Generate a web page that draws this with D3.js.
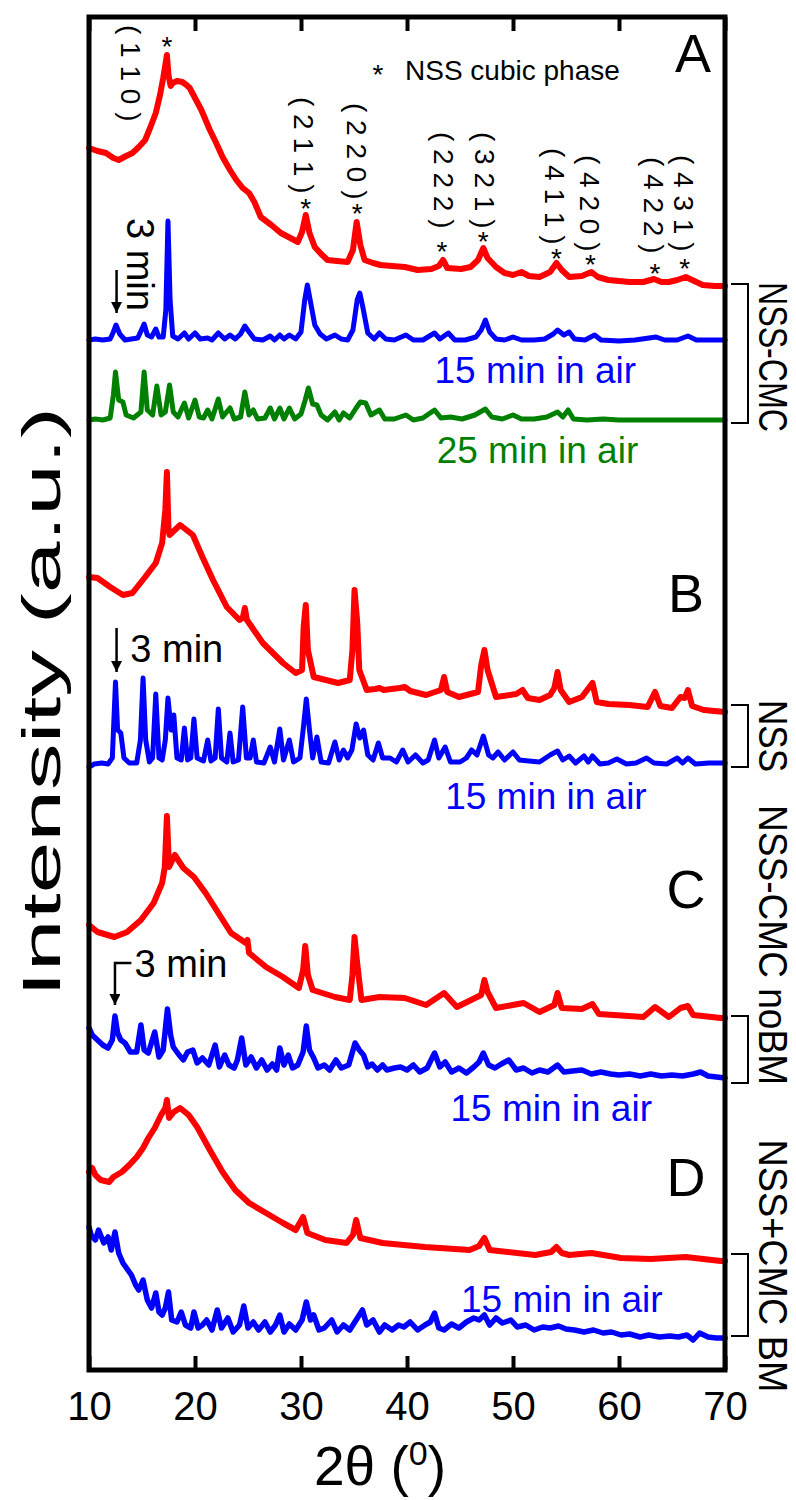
<!DOCTYPE html>
<html>
<head>
<meta charset="utf-8">
<script src="https://cdn.jsdelivr.net/npm/d3@7"></script>
<style>
  body { margin: 0; background: #fff; }
  svg text { font-family: "Liberation Sans", Arial, sans-serif; fill: #000; }
</style>
</head>
<body>
<svg id="chart" width="796" height="1500"></svg>
<script>
// ---- data, [2theta, intensity (a.u., stacked offset included)] ----
const redA = [[10.0,1222],[10.8,1219],[11.6,1217],[12.3,1212],[12.8,1210],[13.5,1214],[14.1,1217],[14.7,1223],[15.3,1230],[15.8,1243],[16.3,1257],[16.7,1275],[17.0,1292],[17.2,1305],[17.35,1315],[17.5,1295],[17.7,1284],[17.9,1287],[18.3,1289],[18.8,1288],[19.2,1285],[19.5,1282],[20.0,1272],[20.6,1260],[21.4,1240],[22.0,1227],[22.6,1213],[23.3,1200],[23.9,1190],[24.5,1182],[25.1,1177],[25.6,1168],[26.2,1153],[27.2,1145],[28.1,1137],[29.0,1132],[29.7,1128],[30.1,1138],[30.45,1155],[30.8,1137],[31.3,1123],[31.9,1116],[32.5,1110],[33.4,1109],[34.4,1108],[34.9,1120],[35.25,1148],[35.6,1125],[36.0,1110],[36.8,1107],[37.5,1105],[38.6,1104],[39.8,1103],[41.0,1100],[42.3,1101],[43.0,1104],[43.4,1110],[43.8,1102],[45.1,1101],[46.0,1103],[46.7,1110],[47.2,1122],[47.6,1112],[48.4,1103],[49.2,1097],[50.0,1095],[50.8,1098],[51.5,1094],[52.5,1093],[53.5,1098],[54.1,1107],[54.6,1100],[55.3,1093],[56.5,1094],[57.4,1098],[58.0,1093],[59.0,1090],[61.0,1088],[62.3,1088],[63.3,1091],[64.0,1088],[64.7,1088],[65.5,1090],[66.3,1093],[66.9,1090],[67.9,1085],[69.0,1084],[70.0,1084]];

const blueA = [[10,1030],[10.6,1031],[11.3,1030],[12.0,1031],[12.3,1038],[12.55,1045],[12.9,1036],[13.4,1030],[14.0,1031],[14.6,1032],[14.95,1040],[15.2,1046],[15.5,1035],[15.9,1033],[16.3,1041],[16.6,1033],[17.0,1033],[17.25,1060],[17.45,1149],[17.65,1070],[17.9,1034],[18.4,1031],[19.0,1037],[19.4,1031],[20.0,1037],[20.5,1031],[21.2,1032],[21.6,1030],[22.2,1037],[22.8,1031],[23.3,1035],[23.8,1031],[24.3,1036],[24.7,1044],[25.1,1038],[25.6,1031],[26.4,1030],[27.1,1034],[27.5,1030],[28.0,1035],[28.4,1031],[28.9,1035],[29.5,1031],[30.0,1038],[30.35,1070],[30.6,1085],[30.9,1068],[31.3,1045],[31.8,1036],[32.4,1031],[33.2,1035],[33.8,1031],[34.4,1030],[34.9,1040],[35.3,1070],[35.55,1077],[35.85,1062],[36.3,1037],[36.9,1031],[37.4,1037],[38.0,1031],[38.8,1030],[39.9,1035],[40.6,1030],[41.5,1030],[42.6,1037],[43.1,1031],[43.9,1037],[44.5,1030],[45.5,1030],[46.5,1033],[47.0,1040],[47.4,1050],[47.8,1038],[48.4,1031],[49.2,1030],[50.0,1033],[50.8,1030],[52.0,1030],[53.0,1031],[53.8,1036],[54.2,1040],[54.8,1035],[55.3,1038],[55.8,1031],[56.8,1030],[57.7,1035],[58.3,1030],[60,1029],[61.5,1030],[63.5,1033],[64.3,1030],[65.5,1030],[66.5,1034],[67.3,1030],[68.5,1030],[70,1030]];

const greenA = [[10,950],[10.6,951],[11.3,950],[12.0,952],[12.3,975],[12.5,998],[12.8,970],[13.2,968],[13.5,955],[14.2,952],[14.9,958],[15.2,998],[15.5,960],[16.0,955],[16.4,984],[16.8,955],[17.2,958],[17.6,985],[17.95,958],[18.4,953],[19.0,967],[19.4,952],[20.0,970],[20.4,953],[20.8,952],[21.2,960],[21.6,951],[22.2,971],[22.6,953],[23.3,962],[23.7,951],[24.3,953],[24.7,978],[25.1,955],[25.5,960],[25.9,951],[26.6,952],[27.1,962],[27.5,951],[28.0,962],[28.4,951],[28.9,962],[29.4,951],[30.0,956],[30.4,970],[30.7,982],[31.1,966],[31.5,965],[31.9,955],[32.5,950],[33.2,958],[33.6,950],[34.0,957],[34.6,952],[35.2,962],[35.6,968],[36.1,967],[36.6,955],[37.4,960],[37.9,951],[38.8,951],[39.9,955],[40.6,950],[41.5,952],[42.6,960],[43.2,952],[44.1,953],[45.2,951],[46.4,955],[47.4,961],[48.0,953],[49.0,951],[50.0,955],[50.8,951],[52.0,951],[53.2,953],[54.2,958],[54.7,953],[55.2,960],[55.7,951],[57.0,950],[58.5,951],[60,950],[62,950],[64,950],[66,950],[68,950],[70,950]];

const redB = [[10.0,793],[10.8,792],[12.0,783],[13.2,775],[14.1,777],[15.3,793],[16.3,807],[16.9,827],[17.2,860],[17.35,898],[17.5,840],[17.6,835],[18.6,845],[19.8,835],[20.7,813],[21.7,790],[23.0,763],[24.2,750],[24.5,752],[24.7,762],[24.9,750],[26.4,727],[28.3,707],[29.5,697],[30.1,700],[30.25,743],[30.45,765],[30.65,720],[31.2,693],[33.5,687],[34.6,690],[34.85,720],[35.05,780],[35.3,748],[35.5,700],[36.2,680],[37.0,681],[37.4,682],[37.8,680],[39.3,682],[39.8,683],[40.3,679],[41.8,675],[43.2,680],[43.5,693],[43.8,678],[44.9,673],[46.7,678],[47.0,705],[47.3,720],[47.6,700],[48.4,673],[50.3,676],[50.9,680],[51.4,672],[52.5,670],[53.5,675],[53.9,682],[54.2,698],[54.5,680],[55.3,668],[56.5,673],[57.5,687],[57.9,668],[59,666],[61.0,665],[62.7,663],[63.4,678],[63.9,664],[65.0,662],[65.8,673],[66.2,672],[66.5,680],[66.9,664],[68.0,660],[70.0,658]];

const blueB = [[10.0,603],[10.5,606],[11.2,607],[11.8,606],[12.2,612],[12.35,650],[12.5,688],[12.7,640],[13.0,637],[13.3,612],[13.8,607],[14.5,607],[14.85,630],[15.1,692],[15.35,630],[15.7,608],[16.0,612],[16.3,676],[16.6,612],[16.9,610],[17.2,630],[17.45,672],[17.75,640],[18.0,655],[18.3,612],[18.7,610],[19.0,642],[19.3,610],[19.6,612],[19.9,651],[20.2,612],[20.8,609],[21.2,630],[21.5,609],[21.9,612],[22.2,661],[22.5,612],[23.0,608],[23.3,637],[23.6,608],[24.1,610],[24.5,663],[24.85,612],[25.2,612],[25.5,630],[25.8,608],[26.5,607],[27.1,623],[27.5,608],[28.0,641],[28.35,610],[28.9,630],[29.3,608],[29.9,612],[30.2,640],[30.5,671],[30.8,640],[31.1,612],[31.5,633],[31.9,608],[32.6,607],[33.2,628],[33.6,610],[34.0,620],[34.4,612],[34.8,620],[35.2,646],[35.55,632],[35.9,640],[36.3,615],[36.8,610],[37.3,627],[37.7,612],[38.4,612],[39.0,608],[39.6,620],[40.1,608],[40.8,615],[41.5,607],[42.0,610],[42.6,630],[43.0,612],[43.6,623],[44.1,608],[45.0,608],[45.6,612],[46.1,620],[46.6,615],[47.2,634],[47.7,615],[48.1,612],[48.6,618],[49.2,610],[50.0,618],[50.6,610],[51.5,609],[52.5,608],[53.5,615],[54.2,619],[54.7,610],[55.3,614],[55.9,607],[56.7,614],[57.1,608],[57.5,614],[58.2,606],[59.0,607],[59.8,611],[60.7,606],[61.6,607],[62.6,612],[63.3,607],[64.5,606],[65.5,612],[66.0,607],[66.5,612],[67.2,606],[68.5,607],[70.0,607]];

const redC = [[10.0,445],[10.8,438],[12.4,433],[13.6,438],[14.9,450],[16.1,467],[16.9,487],[17.15,503],[17.35,554],[17.55,503],[18.1,515],[18.9,502],[19.9,493],[21.0,477],[22.2,457],[23.4,437],[24.8,427],[24.95,430],[25.1,417],[26.7,403],[28.3,393],[29.8,382],[30.2,400],[30.4,424],[30.65,395],[31.1,380],[33.2,373],[34.6,370],[34.85,395],[35.05,433],[35.3,407],[35.7,370],[37.4,373],[39.8,372],[41.8,365],[43.5,377],[44.7,363],[47.0,375],[47.3,390],[47.6,378],[48.4,362],[51.0,367],[52.5,358],[53.9,365],[54.2,377],[54.6,362],[56.5,361],[57.5,366],[58.1,356],[62.3,353],[63.4,363],[64.7,353],[65.8,362],[66.5,364],[67.0,355],[69.6,352],[70,352]];

const blueC = [[10.0,342],[10.3,335],[10.8,330],[11.3,325],[11.8,322],[12.2,330],[12.45,354],[12.7,337],[13.0,330],[13.4,327],[13.9,318],[14.5,318],[14.9,345],[15.2,320],[15.6,317],[16.2,338],[16.6,313],[17.0,320],[17.4,361],[17.7,335],[17.95,323],[18.5,315],[18.9,310],[19.3,318],[19.8,320],[20.2,307],[20.7,312],[21.3,305],[21.9,325],[22.3,303],[22.8,315],[23.2,305],[23.7,302],[24.0,310],[24.4,332],[24.8,305],[25.3,313],[25.8,302],[26.3,310],[26.8,300],[27.3,306],[27.7,300],[28.0,322],[28.4,305],[28.8,315],[29.2,302],[29.7,305],[30.2,318],[30.5,344],[30.8,320],[31.2,312],[31.6,302],[32.2,305],[32.7,300],[33.3,310],[33.8,302],[34.5,305],[35.1,327],[35.5,320],[35.9,315],[36.3,303],[36.7,306],[37.2,300],[37.7,305],[38.1,300],[38.8,302],[39.4,303],[40.0,300],[40.6,305],[41.2,298],[41.9,302],[42.6,317],[43.1,303],[43.6,308],[44.2,298],[44.9,302],[45.6,297],[46.3,303],[46.8,308],[47.2,317],[47.7,305],[48.3,302],[48.9,306],[49.6,310],[50.3,300],[51.0,302],[51.8,297],[52.5,300],[53.3,298],[54.2,305],[54.8,298],[55.6,299],[56.5,300],[57.4,296],[58.3,298],[59.2,296],[60.0,295],[61.0,296],[62.0,294],[63.0,296],[64.0,294],[65.0,295],[66.0,294],[67.0,296],[67.7,298],[68.4,294],[69.2,293],[70.0,292]];

const redD = [[10.0,198],[10.3,202],[10.6,195],[11.1,190],[11.9,188],[12.3,193],[13.1,198],[13.8,205],[14.5,213],[15.1,222],[15.6,232],[16.2,242],[16.8,255],[17.2,262],[17.35,270],[17.55,252],[18.0,258],[18.6,262],[19.4,255],[20.2,243],[21.4,220],[22.6,198],[23.8,180],[25.1,167],[26.7,157],[28.3,147],[29.5,140],[30.2,153],[30.6,137],[32.3,130],[34.3,127],[34.9,135],[35.2,150],[35.6,132],[37.7,127],[41.7,123],[45.9,120],[46.8,124],[47.3,132],[47.8,120],[52.1,115],[53.6,118],[54.1,123],[54.6,117],[55.3,115],[57.4,117],[60.2,112],[63.0,111],[66.3,113],[69.6,109],[70.0,109]];

const blueD = [[10.0,143],[10.2,135],[10.6,130],[10.9,140],[11.4,127],[11.8,133],[12.1,120],[12.45,138],[12.8,117],[13.2,107],[14.0,95],[14.4,85],[14.7,80],[15.1,90],[15.5,70],[15.9,62],[16.3,77],[16.6,58],[16.9,55],[17.2,62],[17.5,78],[17.8,50],[18.3,48],[18.7,58],[19.1,45],[19.6,42],[19.9,58],[20.3,42],[20.7,45],[21.1,50],[21.6,40],[22.1,60],[22.5,42],[23.1,52],[23.6,38],[24.2,45],[24.6,64],[25.0,42],[25.5,48],[26.0,40],[26.6,48],[27.1,38],[27.6,45],[28.0,55],[28.4,38],[28.9,46],[29.5,40],[30.1,50],[30.5,68],[30.9,50],[31.2,55],[31.7,40],[32.2,42],[32.9,50],[33.4,38],[34.0,45],[34.6,40],[35.2,50],[35.8,60],[36.2,45],[36.8,50],[37.4,38],[37.9,45],[38.6,40],[39.2,45],[39.7,43],[40.3,48],[41.0,40],[41.7,45],[42.2,48],[42.6,57],[43.0,42],[43.5,40],[44.2,46],[44.9,42],[45.6,48],[46.3,52],[46.8,50],[47.3,55],[47.8,45],[48.4,52],[49.0,47],[49.8,50],[50.4,43],[51.2,45],[52.0,40],[52.8,43],[53.5,42],[54.3,44],[55.0,41],[55.8,40],[56.7,38],[57.6,40],[58.5,37],[59.3,38],[60.2,35],[61.0,36],[62.0,33],[62.8,35],[63.8,33],[64.8,34],[65.6,33],[66.4,35],[67.0,30],[67.6,37],[68.4,33],[69.2,32],[70.0,32]];

const xTicks = [10, 20, 30, 40, 50, 60, 70];

// hkl reflections of the NSS cubic phase: label position (2theta), label top and star height (a.u.)
const hklLabels = ["( 2 1 1 )", "( 2 2 0 )", "( 2 2 2 )", "( 3 2 1 )", "( 4 1 1 )", "( 4 2 0 )", "( 4 2 2 )", "( 4 3 1 )"];
const hklPos = [30.3, 35.3, 43.5, 47.3, 53.9, 57.2, 63.3, 66.1];
const hklTop = [1273, 1267, 1238, 1238, 1222, 1215, 1213, 1215];
const starPos = [30.45, 35.3, 43.3, 47.2, 54.1, 57.3, 63.4, 66.2];
const starI = [1168, 1163, 1125, 1135, 1118, 1112, 1103, 1108];

// samples: label on the right, bracket from / to (a.u.)
const sampleNames = ["NSS-CMC", "NSS", "NSS-CMC noBM", "NSS+CMC BM"];
const bracketTop = [1086, 665, 354, 116];
const bracketBottom = [947, 603, 287, 34];
const sampleCenter = [1013, 634, 425, 104];
const sampleLength = [150, 72, 280, 253];

const panelLetters = ["A", "B", "C", "D"];
const panelBaseline = [1298, 758, 462, 174];

const airLabels = [
  { text: "15 min in air", t: 42.6, i: 987, color: "#0000ff" },
  { text: "25 min in air", t: 42.8, i: 907, color: "#008000" },
  { text: "15 min in air", t: 43.6, i: 561, color: "#0000ff" },
  { text: "15 min in air", t: 44.1, i: 249, color: "#0000ff" },
  { text: "15 min in air", t: 45.1, i: 58, color: "#0000ff" }
];

function drawChart() {
  var width = 796;
  var height = 1500;
  var plot = { left: 89, right: 725, top: 17, bottom: 1370 };

  const svg = d3.select("#chart").attr("width", width).attr("height", height);

  var x = d3.scaleLinear().domain([10, 70]).range([plot.left, plot.right]);
  var y = d3.scaleLinear().domain([0, plot.bottom - plot.top]).range([plot.bottom, plot.top]);

  var line = d3
    .line()
    .x((d) => x(d[0]))
    .y((d) => y(d[1]));

  var series = [
    { data: greenA, color: "#008000", w: 5 },
    { data: blueA, color: "#0000ff", w: 5 },
    { data: redA, color: "#ff0000", w: 6 },
    { data: blueB, color: "#0000ff", w: 5 },
    { data: redB, color: "#ff0000", w: 6 },
    { data: blueC, color: "#0000ff", w: 5.5 },
    { data: redC, color: "#ff0000", w: 6 },
    { data: blueD, color: "#0000ff", w: 5.5 },
    { data: redD, color: "#ff0000", w: 6 }
  ];

  svg
    .append("g")
    .selectAll("path")
    .data(series)
    .enter()
    .append("path")
    .attr("d", (s) => line(s.data))
    .attr("fill", "none")
    .attr("stroke", (s) => s.color)
    .attr("stroke-width", (s) => s.w)
    .attr("stroke-linejoin", "round")
    .attr("stroke-linecap", "round");

  // ! axes: inward ticks on top and bottom, labels only at the bottom
  const bottomAxis = svg
    .append("g")
    .attr("transform", "translate(0," + plot.bottom + ")")
    .call(d3.axisBottom(x).tickValues(xTicks).tickSizeInner(-14).tickSizeOuter(0).tickPadding(22));
  bottomAxis.select(".domain").remove();
  bottomAxis.selectAll("line").attr("stroke-width", 4);
  bottomAxis.selectAll("text").attr("font-size", 40).attr("font-family", "Liberation Sans, Arial, sans-serif");

  const topAxis = svg
    .append("g")
    .attr("transform", "translate(0," + plot.top + ")")
    .call(d3.axisTop(x).tickValues(xTicks).tickSizeInner(-14).tickSizeOuter(0).tickFormat(""));
  topAxis.select(".domain").remove();
  topAxis.selectAll("line").attr("stroke-width", 4);

  svg
    .append("rect")
    .attr("x", plot.left)
    .attr("y", plot.top)
    .attr("width", plot.right - plot.left)
    .attr("height", plot.bottom - plot.top)
    .attr("fill", "none")
    .attr("stroke", "#000")
    .attr("stroke-width", 5);

  // axis titles
  svg
    .append("text")
    .attr("transform", "translate(41,702) rotate(-90)")
    .attr("text-anchor", "middle")
    .attr("dy", "0.35em")
    .attr("font-size", 54)
    .attr("textLength", 590)
    .attr("lengthAdjust", "spacingAndGlyphs")
    .text("Intensity (a.u.)");

  const xTitle = svg
    .append("text")
    .attr("x", 380)
    .attr("y", 1485)
    .attr("text-anchor", "middle")
    .attr("font-size", 55);
  xTitle.append("tspan").text("2θ (");
  xTitle.append("tspan").attr("font-size", 34).attr("dy", -20).text("0");
  xTitle.append("tspan").attr("dy", 20).text(")");

  // panel letters
  svg
    .append("g")
    .selectAll("text")
    .data(panelLetters)
    .enter()
    .append("text")
    .attr("x", (d, i) => (i === 0 ? 693 : 686))
    .attr("y", (d, i) => y(panelBaseline[i]))
    .attr("text-anchor", "middle")
    .attr("font-size", 54)
    .text((d) => d);

  // ! hkl labels (rotated) and phase stars
  svg
    .append("g")
    .selectAll("text")
    .data(hklLabels)
    .enter()
    .append("text")
    .attr("transform", (d, i) => "translate(" + x(hklPos[i]) + "," + y(hklTop[i]) + ") rotate(90)")
    .attr("dy", "0.35em")
    .attr("font-size", 28)
    .text((d) => d);

  svg
    .append("text")
    .attr("transform", "translate(" + x(13.9) + "," + y(1345) + ") rotate(90)")
    .attr("dy", "0.35em")
    .attr("font-size", 28)
    .text("( 1 1 0 )");

  svg
    .append("g")
    .selectAll("text")
    .data(starPos.concat([17.35]))
    .enter()
    .append("text")
    .attr("x", (d) => x(d))
    .attr("y", (d, i) => y(i < starI.length ? starI[i] : 1330) + 16)
    .attr("text-anchor", "middle")
    .attr("font-size", 28)
    .text("*");

  svg.append("text").attr("x", 378).attr("y", 84).attr("text-anchor", "middle").attr("font-size", 28).text("*");
  svg.append("text").attr("x", 405).attr("y", 80).attr("font-size", 28).text("NSS cubic phase");

  // time labels
  svg
    .append("g")
    .selectAll("text")
    .data(airLabels)
    .enter()
    .append("text")
    .attr("x", (d) => x(d.t))
    .attr("y", (d) => y(d.i))
    .attr("font-size", 37)
    .style("fill", (d) => d.color)
    .text((d) => d.text);

  // ! "3 min" markers
  svg
    .append("defs")
    .append("marker")
    .attr("id", "head")
    .attr("viewBox", "0 0 10 10")
    .attr("refX", 10)
    .attr("refY", 5)
    .attr("markerWidth", 5)
    .attr("markerHeight", 4.4)
    .attr("markerUnits", "strokeWidth")
    .attr("orient", "auto")
    .append("path")
    .attr("d", "M0,0 L10,5 L0,10 z")
    .attr("fill", "#000");

  var arrows = [
    [[12.6, 1100], [12.6, 1057]],
    [[12.6, 742], [12.6, 698]],
    [[14.0, 407], [12.45, 407], [12.45, 365]]
  ];
  svg
    .append("g")
    .selectAll("path")
    .data(arrows)
    .enter()
    .append("path")
    .attr("d", (d) => d3.line().x((p) => x(p[0])).y((p) => y(p[1]))(d))
    .attr("fill", "none")
    .attr("stroke", "#000")
    .attr("stroke-width", 2.5)
    .attr("marker-end", "url(#head)");

  svg
    .append("text")
    .attr("transform", "translate(" + x(14.8) + "," + y(1152) + ") rotate(90)")
    .attr("dy", "0.35em")
    .attr("font-size", 38)
    .text("3 min");
  svg.append("text").attr("x", x(13.9)).attr("y", y(708)).attr("font-size", 38).text("3 min");
  svg.append("text").attr("x", x(14.3)).attr("y", y(393)).attr("font-size", 38).text("3 min");

  // ! sample brackets on the right
  var bx0 = plot.right + 6;
  var bx1 = plot.right + 23;
  svg
    .append("g")
    .selectAll("path")
    .data(sampleNames)
    .enter()
    .append("path")
    .attr("d", (d, i) => {
      var t = y(bracketTop[i]);
      var b = y(bracketBottom[i]);
      return "M" + bx0 + "," + t + "H" + bx1 + "V" + b + "H" + bx0;
    })
    .attr("fill", "none")
    .attr("stroke", "#000")
    .attr("stroke-width", 2);

  svg
    .append("g")
    .selectAll("text")
    .data(sampleNames)
    .enter()
    .append("text")
    .attr("transform", (d, i) => "translate(773," + y(sampleCenter[i]) + ") rotate(90)")
    .attr("text-anchor", "middle")
    .attr("dy", "0.35em")
    .attr("font-size", 40)
    .attr("textLength", (d, i) => sampleLength[i])
    .attr("lengthAdjust", "spacingAndGlyphs")
    .text((d) => d);
}
drawChart();
</script>
</body>
</html>
